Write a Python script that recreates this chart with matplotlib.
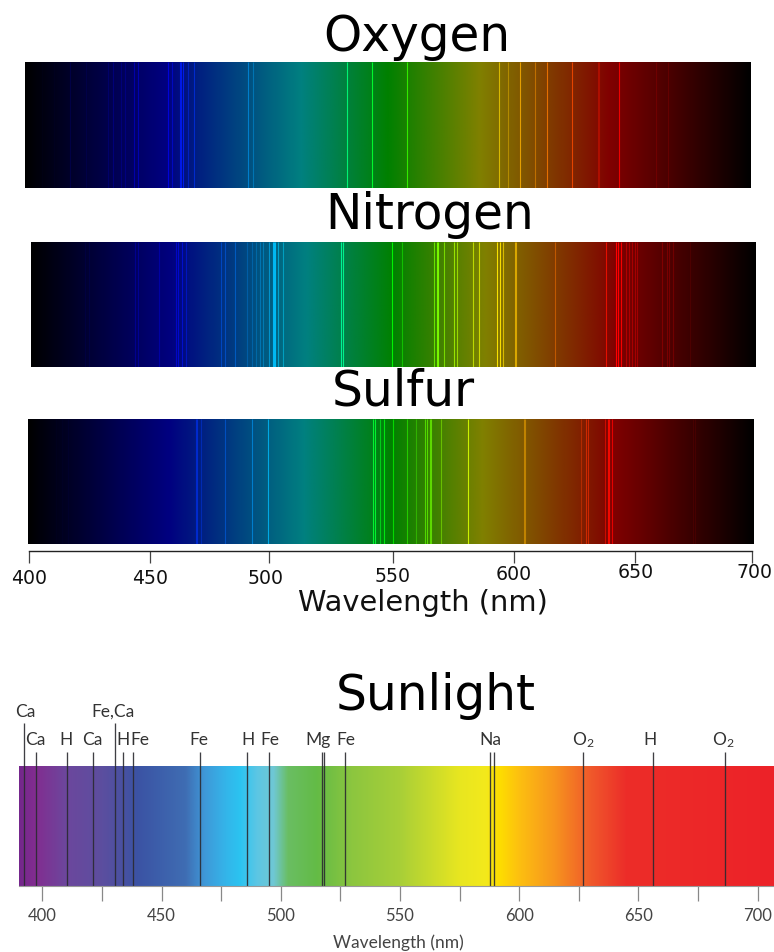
import numpy as np
import matplotlib
matplotlib.use("Agg")
import matplotlib.pyplot as plt
from matplotlib.colors import LinearSegmentedColormap

# ---------- data ----------
oxygen_nm = [406.9, 412.0, 418.6, 425.0, 434.4, 436.5, 439.5, 441.5, 445.0, 446.7, 459.0, 460.7, 464.0, 464.6, 465.2,
             467.5, 469.8, 492.3, 494.4, 532.9, 543.5, 557.7, 595.9, 599.6, 604.7, 610.6, 615.7, 626.0, 636.6, 637.2, 645.6, 660.6, 665.6]
oxygen_i = [.3, .2, .7, .3, .4, .5, .4, .4, .7, .7, .7, .5, .8, .8, .8, .5, .6, .6, .4, .9, .95, .85, .7, .4, .8, .5, .8, .8, .35, .35, 1, .3, .35]

nitrogen_nm = [422.3, 424.1, 443.0, 444.4, 452.8, 460.0, 460.9, 462.3, 464.1, 478.6, 480.3, 484.5, 489.4, 491.3, 493.2,
               494.9, 496.1, 498.6, 500.0, 500.5, 501.0, 502.3, 504.4, 528.1, 529.2, 549.5, 553.5, 566.8, 567.9, 568.6,
               571.0, 575.0, 576.4, 583.0, 585.5, 593.0, 593.9, 595.3, 600.1, 600.8, 617.0, 638.1, 641.9, 642.8, 644.0,
               646.2, 647.4, 648.8, 649.9, 650.9, 661.2, 663.0, 664.0, 665.8, 672.6]
nitrogen_i = [.3, .3, .5, .5, .4, .55, .6, .6, .5, .5, .5, .5, .3, .3, .3, .4, .4, .6, .9, .9, .9, .6, .5, .9, .9, .9, .5, .8, .95, .95,
              .7, .8, .7, .7, .7, .95, .95, .7, .7, .7, .5, .8, 1, 1, 1, .5, .5, .5, .5, .5, .5, .5, .5, .5, .3]

sulfur_nm = [411.6, 413.9, 416.7, 469.3, 469.8, 471.6, 481.4, 492.4, 499.3, 542.7, 543.2, 545.5, 547.2, 551.0, 556.5,
             560.5, 563.9, 564.7, 566.0, 566.5, 570.7, 581.9, 605.0, 605.5, 628.6, 630.6, 631.4, 638.6, 639.8, 640.2, 641.5, 674.7, 675.5]
sulfur_i = [.2, .2, .2, .6, .6, .4, .5, .6, .8, .9, .9, .6, .8, .7, .6, .4, .7, .7, .7, .7, .5, .9, .5, .5, .4, .6, .6, .6, .9, .9, .8, .3, .3]

gas_stops_nm = [400, 458, 514, 550, 588, 642, 700]
gas_stops_rgb = ["#000000", "#000080", "#008080", "#008000", "#808000", "#800000", "#000000"]

axis_ticks = [400, 450, 500, 550, 600, 650, 700]

sun_stops_nm = [390.2, 397, 410, 425, 440, 460, 468, 476, 483, 490, 497, 503, 515, 530, 550, 575, 586, 592, 600, 615, 630, 645, 706.9]
sun_stops_rgb = ["#74278C", "#822D90", "#6C479D", "#5C4E9F", "#3B53A4", "#3F6DB3", "#3F98D8", "#35B2E8", "#2BC4F1", "#5CC6E4", "#6FC8D4",
                 "#6ABE63", "#63BB46", "#8CC63F", "#A8CF38", "#E8E620", "#F3E91C", "#FEDD00", "#FDC010", "#F7941E", "#F0592B", "#EC2D29", "#ED2228"]
sun_lines_nm = [392.5, 397.2, 410.3, 421.4, 430.6, 433.8, 438.2, 466.0, 486.0, 495.0, 517.2, 518.0, 526.8, 587.6, 589.4, 626.8, 656.2, 686.3]
sun_lines_top = [723, 752, 752, 752, 723, 752, 752, 752, 752, 752, 752, 752, 752, 752, 752, 752, 752, 752]
sun_labels = ["Ca", "Ca", "H", "Ca", "Fe,Ca", "H", "Fe", "Fe", "H", "Fe", "Mg", "Fe", "Na", "O$_2$", "H", "O$_2$"]
sun_label_nm = [392.9, 397.1, 410.0, 421.0, 429.6, 433.8, 441.0, 465.7, 486.2, 495.5, 515.8, 527.4, 588.0, 626.7, 655.0, 685.8]
sun_label_y = [712, 740, 740, 740, 712, 740, 740, 740, 740, 740, 740, 740, 740, 740, 740, 740]
sun_ticks = list(range(400, 701, 25))
sun_ticklabels = ["400", "", "450", "", "500", "", "550", "", "600", "", "650", "", "700"]

# ---------- layout ----------
W, H = 774, 952
plt.rcParams["font.family"] = "DejaVu Sans"
plt.rcParams["mathtext.default"] = "regular"
fig = plt.figure(figsize=(W / 100, H / 100), dpi=100, facecolor="white")


def px_axes(x0, y0, x1, y1):
    return fig.add_axes([x0 / W, 1 - y1 / H, (x1 - x0) / W, (y1 - y0) / H])


def fig_text(x, y, s, **kw):
    fig.text(x / W, 1 - y / H, s, ha="center", va="center", **kw)


gas_cmap = LinearSegmentedColormap.from_list(
    "gas", [((n - 400) / 300, c) for n, c in zip(gas_stops_nm, gas_stops_rgb)], N=1024)
sun_span = (sun_stops_nm[0], sun_stops_nm[-1])
sun_cmap = LinearSegmentedColormap.from_list(
    "sun", [((n - sun_span[0]) / (sun_span[1] - sun_span[0]), c) for n, c in zip(sun_stops_nm, sun_stops_rgb)], N=1024)


def spectrum(box, nm, intensity):
    ax = px_axes(*box)
    grid = np.linspace(400, 700, 1024)[None, :]
    ax.imshow(grid, extent=(400, 700, 0, 1), aspect="auto", cmap=gas_cmap, vmin=400, vmax=700, interpolation="bilinear")
    for w, a in zip(nm, intensity):
        base = np.array(gas_cmap((w - 400) / 300)[:3])
        bright = np.clip(base * 2.0, 0, 1)
        ax.vlines(w, 0, 1, color=tuple(bright), alpha=a, lw=0.8)
    ax.set_xlim(400, 700)
    ax.set_ylim(0, 1)
    ax.axis("off")


spectrum((25, 62, 751, 188), oxygen_nm, oxygen_i)
spectrum((31, 242, 756, 367), nitrogen_nm, nitrogen_i)
spectrum((28, 419, 754, 544), sulfur_nm, sulfur_i)

fig_text(417, 37, "Oxygen", fontsize=35, color="black")
fig_text(430, 215, "Nitrogen", fontsize=35, color="black")
fig_text(403, 392, "Sulfur", fontsize=35, color="black")
fig_text(436, 696, "Sunlight", fontsize=35, color="black")

# hand-assembled wavelength axis: the tick spacing in the picture is slightly uneven
tick_px = [28.7, 149.7, 268.7, 393.0, 514.0, 635.3, 752.3]
label_px = [29, 150, 266, 393, 514, 636, 754]
label_py = [578, 578, 578, 577, 574, 573, 573]
ax_a = px_axes(28.7, 550, 752.3, 551)
ax_a.set_xscale("function", functions=(lambda v: np.interp(v, axis_ticks, tick_px),
                                        lambda p: np.interp(p, tick_px, axis_ticks)))
ax_a.set_xlim(400, 700)
ax_a.set_yticks([])
for s in ("left", "right", "top"):
    ax_a.spines[s].set_visible(False)
ax_a.spines["bottom"].set_color("#222222")
ax_a.spines["bottom"].set_linewidth(1.0)
ax_a.set_xticks(axis_ticks)
ax_a.minorticks_off()
ax_a.set_xticklabels([])
ax_a.tick_params(axis="x", length=8.6, width=0.9, color="#444444")
for t, x, y in zip(axis_ticks, label_px, label_py):
    fig_text(x, y, str(t), fontsize=13.6, color="#111111")
fig_text(423, 603, "Wavelength (nm)", fontsize=20.8, color="#111111")

# sunlight panel
ax_s = px_axes(19, 700, 774, 886)
grid = np.linspace(sun_span[0], sun_span[1], 1024)[None, :]
ax_s.imshow(grid, extent=(sun_span[0], sun_span[1], 886, 766), aspect="auto", cmap=sun_cmap,
            vmin=sun_span[0], vmax=sun_span[1], interpolation="bilinear")
ax_s.vlines(sun_lines_nm, sun_lines_top, 886, color="#2a2a30", lw=0.95, alpha=0.9)
ax_s.set_xlim(*sun_span)
ax_s.set_ylim(886, 700)
ax_s.set_yticks([])
for s in ("left", "right", "top"):
    ax_s.spines[s].set_visible(False)
ax_s.spines["bottom"].set_color("#999999")
ax_s.spines["bottom"].set_linewidth(0.8)
ax_s.patch.set_alpha(0)
ax_s.set_xticks(sun_ticks)
ax_s.set_xticklabels(sun_ticklabels, fontsize=12, color="#444444", family="Lato")
ax_s.tick_params(axis="x", length=10.6, width=0.9, color="#888888", pad=5)
for lab, w, y in zip(sun_labels, sun_label_nm, sun_label_y):
    ax_s.text(w, y, lab, ha="center", va="center", fontsize=12.5, color="#333333", family="Lato")
fig_text(398, 943, "Wavelength (nm)", fontsize=12.5, color="#444444", family="Lato")

fig.savefig("out.png", dpi=100, facecolor="white")
